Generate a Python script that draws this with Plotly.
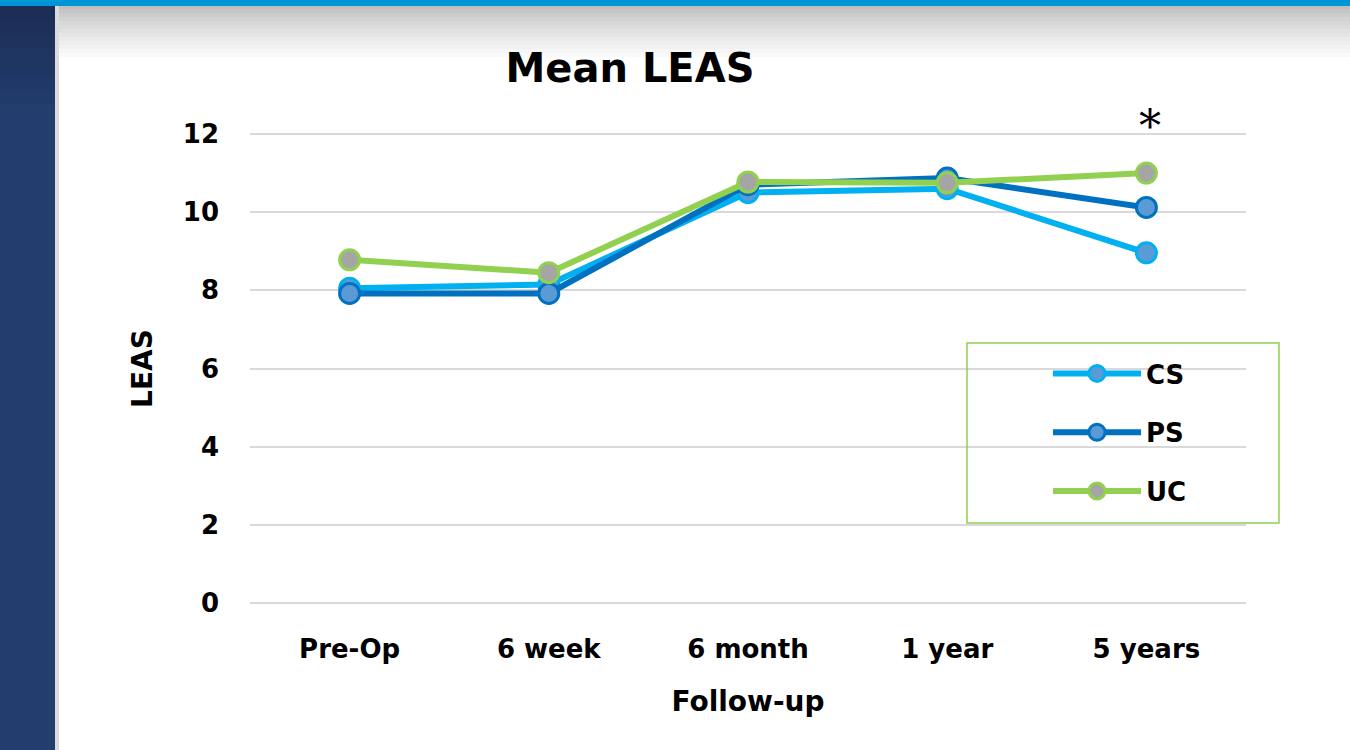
import plotly.graph_objects as go

categories = ["Pre-Op", "6 week", "6 month", "1 year", "5 years"]
cs_values = [8.05, 8.15, 10.5, 10.6, 8.96]
ps_values = [7.92, 7.92, 10.7, 10.87, 10.12]
uc_values = [8.78, 8.45, 10.77, 10.75, 11.0]
y_ticks = [0, 2, 4, 6, 8, 10, 12]

series = [
    ("CS", cs_values, "#00b0f0", "#5b9bd5"),
    ("PS", ps_values, "#0070c0", "#5b9bd5"),
    ("UC", uc_values, "#92d050", "#a5a5a5"),
]

FONT = "DejaVu Sans"
W, H = 1350, 750
L, R, T, B = 250, 104, 130, 143
PW, PH = W - L - R, H - T - B


def px_x(p):
    return (p - L) / PW


def px_y(p):
    return (H - B - p) / PH


fig = go.Figure()
for name, vals, lc, fc in series:
    fig.add_trace(go.Scatter(
        x=categories, y=vals, name=name, mode="lines+markers",
        line=dict(color=lc, width=6),
        marker=dict(size=20, color=fc, line=dict(color=lc, width=3)),
        legendgroup=name,
    ))

shapes = []
# left dark bar (slight vertical gradient) + shadow
shapes.append(dict(type="rect", xref="paper", yref="paper", x0=px_x(0), x1=px_x(55),
                   y0=px_y(750), y1=px_y(0), fillcolor="#223d6e", line_width=0, layer="below"))
bar_steps = 8
for i in range(bar_steps):
    t = i / (bar_steps - 1)
    r = int(0x1d + (0x22 - 0x1d) * t)
    g = int(0x2e + (0x3d - 0x2e) * t)
    b = int(0x56 + (0x6e - 0x56) * t)
    shapes.append(dict(type="rect", xref="paper", yref="paper", x0=px_x(0), x1=px_x(55),
                       y0=px_y(6 + (i + 1) * 14), y1=px_y(6 + i * 14),
                       fillcolor=f"rgb({r},{g},{b})", line_width=0, layer="below"))
shapes.append(dict(type="rect", xref="paper", yref="paper", x0=px_x(55), x1=px_x(59),
                   y0=px_y(750), y1=px_y(5), fillcolor="#dcdcdc", line_width=0, layer="below"))
# top gradient
steps = 14
for i in range(steps):
    y0p = 5 + i * 4
    g = int(190 + (255 - 190) * (i / (steps - 1)) ** 0.8)
    col = f"rgb({g},{g},{g})"
    shapes.append(dict(type="rect", xref="paper", yref="paper", x0=px_x(59), x1=px_x(1350),
                       y0=px_y(y0p + 4), y1=px_y(y0p), fillcolor=col, line_width=0, layer="below"))
# top blue line
shapes.append(dict(type="rect", xref="paper", yref="paper", x0=px_x(0), x1=px_x(1350),
                   y0=px_y(6), y1=px_y(0), fillcolor="#0096d6", line_width=0, layer="below"))
# legend box
shapes.append(dict(type="rect", xref="paper", yref="paper", x0=px_x(967), x1=px_x(1279),
                   y0=px_y(523), y1=px_y(343), line=dict(color="#92d050", width=1.5)))

fig.update_layout(
    width=W, height=H,
    margin=dict(l=L, r=R, t=T, b=B),
    paper_bgcolor="white", plot_bgcolor="rgba(0,0,0,0)",
    font=dict(family=FONT, color="#000000"),
    title=dict(text="<b>Mean LEAS</b>", x=px_x(630), xref="paper", xanchor="center",
               y=1 - 68 / H, yanchor="middle", font=dict(size=40, family=FONT)),
    xaxis=dict(range=[-0.5, 4.5], showgrid=False, zeroline=False, showline=False,
               tickfont=dict(size=26, family=FONT, weight="bold"), ticks="", ticklen=0,
               ticklabelstandoff=24,
               title=dict(text="<b>Follow-up</b>", font=dict(size=28, family=FONT), standoff=28),
               fixedrange=True),
    yaxis=dict(range=[-0.1, 12.1], tickvals=y_ticks, showgrid=True, gridcolor="#d9d9d9",
               gridwidth=1.5, zeroline=False, showline=False, ticks="", ticklabelstandoff=30,
               tickfont=dict(size=26, family=FONT, weight="bold"),
               title=dict(text="<b>LEAS</b>", font=dict(size=28, family=FONT), standoff=22),
               fixedrange=True),
    legend=dict(x=px_x(1048), y=px_y(350), xanchor="left", yanchor="top",
                bgcolor="rgba(0,0,0,0)", borderwidth=0,
                font=dict(size=26, family=FONT, weight="bold"),
                tracegroupgap=22, itemwidth=88),
    shapes=shapes,
)

fig.add_annotation(x=px_x(1150), y=px_y(126), xref="paper", yref="paper", text="*",
                   showarrow=False, font=dict(size=44, family="DejaVu Serif", color="black"),
                   xanchor="center", yanchor="middle")

fig.write_html("out.html", config={"displayModeBar": False},
               post_script="document.body.style.margin='0';document.body.style.overflow='hidden';")
